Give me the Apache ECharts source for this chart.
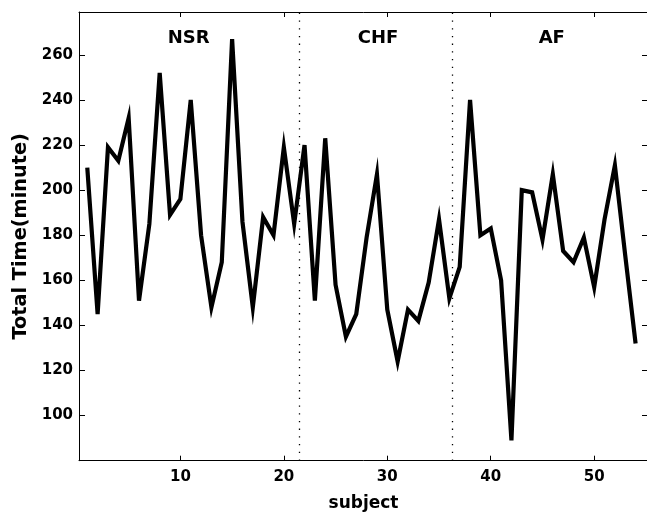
<!DOCTYPE html>
<html>
<head>
<meta charset="utf-8">
<script src="https://cdn.jsdelivr.net/npm/echarts@6/dist/echarts.min.js"></script>
<style>
html,body{margin:0;padding:0;background:#fff;}
#chart{width:647px;height:513px;}
</style>
</head>
<body>
<div id="chart"></div>
<script>
// ---- data ----
var subjects = [1,2,3,4,5,6,7,8,9,10,11,12,13,14,15,16,17,18,19,20,21,22,23,24,25,26,27,28,29,30,31,32,33,34,35,36,37,38,39,40,41,42,43,44,45,46,47,48,49,50,51,52,53,54];
var totalTime = [210,145,219,213,232,151,185,252,189,196,240,180,148,168,267,186,148,188,180,219,185,220,151,223,158,135,145,179,207,147,124,147,142,159,187,152,166,240,180,183,160,89,200,199,178,207,173,168,179,157,187,211,171,132];
var groupNames = ['NSR','CHF','AF'];
var groupLabelX = [10.8, 29.1, 45.9];
var groupLabelY = [267.5, 267.5, 267.5];
var groupBoundaries = [21.45, 36.25];
var xTickStep = 10;
var yTickStep = 20;

var FONT = 'DejaVu Sans';
var lineData = subjects.map(function(s, i){ return [s, totalTime[i]]; });
var labelData = groupNames.map(function(n, i){ return [groupLabelX[i], groupLabelY[i], n]; });

var chart = echarts.init(document.getElementById('chart'), null, {renderer:'canvas'});
var axisLineStyle = {color:'#000', width:1};
var option = {
  animation:false,
  backgroundColor:'#fff',
  grid:{left:79, top:12, right:-1, bottom:52.3, containLabel:false, outerBoundsMode:'none'},
  xAxis:[{
    type:'value', position:'bottom', min:0.2, max:55.2,
    axisLine:{show:true, onZero:false, lineStyle:axisLineStyle},
    axisTick:{show:true, inside:true, length:5, lineStyle:axisLineStyle},
    splitLine:{show:false},
    axisLabel:{show:true, margin:9, color:'#000', fontFamily:FONT, fontWeight:'bold', fontSize:15,
      formatter:function(v){ return (Math.abs(v % xTickStep) < 1e-6 && v > 0) ? String(v) : ''; }},
    name:'subject', nameLocation:'middle', nameGap:34,
    nameTextStyle:{color:'#000', fontFamily:FONT, fontWeight:'bold', fontSize:17}
  },{
    type:'value', position:'top', min:0.2, max:55.2,
    axisLine:{show:true, onZero:false, lineStyle:axisLineStyle},
    axisTick:{show:true, inside:true, length:5, lineStyle:axisLineStyle},
    splitLine:{show:false}, axisLabel:{show:false}
  }],
  yAxis:[{
    type:'value', position:'left', min:80, max:279, interval:yTickStep,
    axisLine:{show:true, onZero:false, lineStyle:axisLineStyle},
    axisTick:{show:true, inside:true, length:6, lineStyle:axisLineStyle},
    splitLine:{show:false},
    axisLabel:{show:true, margin:6, color:'#000', fontFamily:FONT, fontWeight:'bold', fontSize:15,
      formatter:function(v){ return (Math.abs(v % yTickStep) < 1e-6 && v > 80) ? String(v) : ''; }},
    name:'Total Time(minute)', nameLocation:'middle', nameGap:48,
    nameTextStyle:{color:'#000', fontFamily:FONT, fontWeight:'bold', fontSize:19.3}
  },{
    type:'value', position:'right', min:80, max:279, interval:yTickStep,
    axisLine:{show:true, onZero:false, lineStyle:axisLineStyle},
    axisTick:{show:true, inside:true, length:6, lineStyle:axisLineStyle},
    splitLine:{show:false}, axisLabel:{show:false}
  }],
  series:[{
    type:'line', xAxisIndex:0, yAxisIndex:0,
    data:lineData, showSymbol:false, symbol:'none',
    lineStyle:{color:'#000', width:4.2, join:'miter', cap:'butt'},
    silent:true,
    markLine:{
      silent:true, symbol:['none','none'], label:{show:false},
      lineStyle:{color:'#000', width:1.3, type:[1.3,6.4]},
      data:groupBoundaries.map(function(b){ return {xAxis:b}; })
    }
  },{
    type:'custom', xAxisIndex:0, yAxisIndex:0,
    data:labelData, silent:true,
    renderItem:function(params, api){
      var p = api.coord([api.value(0), api.value(1)]);
      return {
        type:'text',
        x:p[0], y:p[1],
        style:{text:labelData[params.dataIndex][2], fill:'#000',
          font:'bold 18px "DejaVu Sans"', align:'center', verticalAlign:'middle'}
      };
    }
  }]
};
chart.setOption(option);
</script>
</body>
</html>
